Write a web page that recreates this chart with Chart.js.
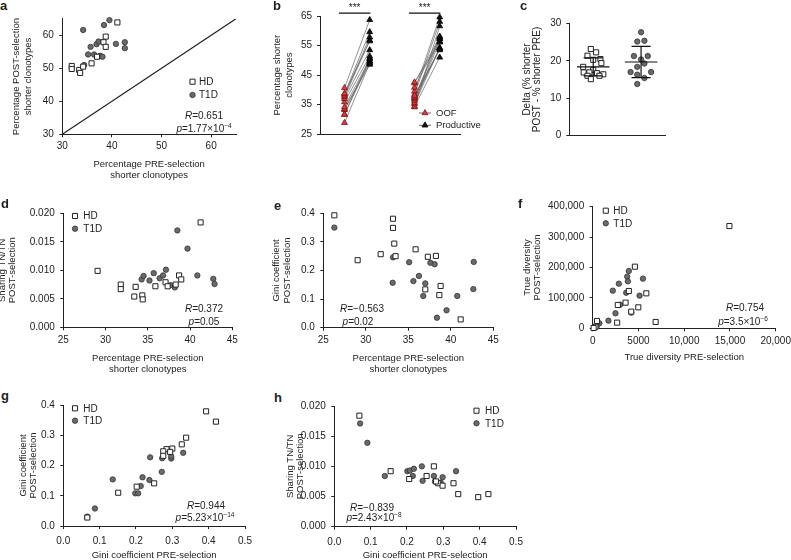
<!DOCTYPE html>
<html lang="en">
<head>
<meta charset="UTF-8">
<title>Shorter clonotypes, Gini coefficient, sharing and diversity</title>
<script src="https://cdn.jsdelivr.net/npm/chart.js@4"></script>
<style>
  body {
    margin: 0;
    width: 791px;
    height: 560px;
    overflow: hidden;
    position: relative;
    background: #fff;
    font-family: 'Liberation Sans', Arial, sans-serif;
    color: #222;
  }
  canvas { position: absolute; }
  /* lettres des panneaux */
  .lettre { position: absolute; font-weight: bold; font-size: 13px; line-height: 13px; }
  /* R et p dans les panneaux */
  .stat { position: absolute; font-size: 10px; line-height: 11px; white-space: nowrap; transform: translate(-50%, -50%); }
  .stat sup { font-size: 6.5px; vertical-align: 3.5px; line-height: 0; }
</style>
</head>
<body>

<canvas id="panneauA"></canvas>
<canvas id="panneauB"></canvas>
<canvas id="panneauC"></canvas>
<canvas id="panneauD"></canvas>
<canvas id="panneauE"></canvas>
<canvas id="panneauF"></canvas>
<canvas id="panneauG"></canvas>
<canvas id="panneauH"></canvas>

<div class="lettre" style="left:0px;top:-1px">a</div>
<div class="lettre" style="left:273px;top:-1px">b</div>
<div class="lettre" style="left:520px;top:-1px">c</div>
<div class="lettre" style="left:1px;top:197px">d</div>
<div class="lettre" style="left:274px;top:199px">e</div>
<div class="lettre" style="left:518px;top:197px">f</div>
<div class="lettre" style="left:1px;top:389px">g</div>
<div class="lettre" style="left:274px;top:391px">h</div>

<div class="stat" style="left:204px;top:115px"><i>R</i>=0.651</div>
<div class="stat" style="left:204px;top:128px"><i>p</i>=1.77×10<sup>−4</sup></div>
<div class="stat" style="left:204px;top:308px"><i>R</i>=0.372</div>
<div class="stat" style="left:204px;top:321px"><i>p</i>=0.05</div>
<div class="stat" style="left:362px;top:308px"><i>R</i>=−0.563</div>
<div class="stat" style="left:358px;top:321px"><i>p</i>=0.02</div>
<div class="stat" style="left:745px;top:307px"><i>R</i>=0.754</div>
<div class="stat" style="left:743px;top:321px"><i>p</i>=3.5×10<sup>−6</sup></div>
<div class="stat" style="left:206px;top:505px"><i>R</i>=0.944</div>
<div class="stat" style="left:205px;top:517px"><i>p</i>=5.23×10<sup>−14</sup></div>
<div class="stat" style="left:372px;top:507px"><i>R</i>=−0.839</div>
<div class="stat" style="left:374px;top:517px"><i>p</i>=2.43×10<sup>−8</sup></div>

<script>
// ---- valeurs ----
const groupes = ['HD', 'T1D'];

// a : % PRE vs % POST sélection
const aHdPre   = [31.9, 31.9, 33.4, 33.6, 34.2, 35.9, 37.0, 38.3, 38.75, 38.75, 41.1];
const aHdPost  = [50.7, 49.8, 49.5, 48.6, 50.5, 51.5, 53.5, 57.9, 59.6, 56.5, 63.9];
const aT1dPre  = [34.2, 38.4, 39.5, 34.4, 35.2, 35.7, 36.4, 36.9, 37.3, 37.6, 38.1, 40.8, 42.6, 42.6];
const aT1dPost = [61.6, 63.1, 64.6, 51.0, 54.2, 56.5, 54.2, 57.3, 58.1, 53.8, 53.5, 57.4, 57.9, 56.1];
const aDiagonale = [30, 65];

// b : OOF -> productif, par individu
const bHdOof   = [28.9, 31.7, 31.7, 33.3, 33.5, 34.2, 35.9, 37.0, 37.6, 38.1, 38.6, 38.8, 40.7];
const bHdProd  = [49.0, 50.8, 49.8, 49.5, 48.6, 50.4, 51.4, 53.5, 56.8, 57.8, 59.6, 56.5, 63.7];
const bT1dOof  = [34.2, 38.4, 39.5, 34.4, 35.2, 35.7, 36.4, 36.9, 37.3, 37.6, 38.1, 40.8, 42.3, 42.6];
const bT1dProd = [61.6, 63.1, 64.6, 51.0, 54.2, 56.5, 54.2, 57.3, 58.1, 53.8, 53.5, 57.4, 57.9, 56.1];
const bNiveauSignif = 66;

// c : delta (% POST - % PRE), dispersion horizontale
const cHdX  = [0.95, 1.06, 0.88, 1.15, 1.0, 1.17, 0.79, 1.0, 0.8, 0.92, 1.08, 1.21, 0.88, 1.13, 0.95];
const cHdY  = [23.2, 22.3, 21.4, 20.5, 20.3, 19.4, 18.4, 17.6, 16.9, 16.9, 16.7, 16.4, 16.0, 16.0, 15.1];
const cT1dX = [2.0, 1.92, 2.07, 1.85, 2.14, 2.0, 2.07, 1.92, 1.78, 2.21, 1.92, 2.07, 1.92];
const cT1dY = [27.7, 25.2, 25.4, 21.3, 21.3, 20.4, 19.3, 18.4, 17.0, 17.0, 16.3, 15.4, 13.8];
const cMoyenne = [18.4, 19.7];
const cEcart   = [2.4, 4.2];

// d : % PRE vs partage TN/TN POST
const dHdX  = [29.06, 31.8, 31.8, 33.56, 33.4, 34.35, 34.4, 35.9, 37.1, 37.35, 38.3, 38.7, 38.96, 41.25];
const dHdY  = [0.0099, 0.0075, 0.0067, 0.0071, 0.0054, 0.0056, 0.0049, 0.0072, 0.0079, 0.0072, 0.0075, 0.0091, 0.0084, 0.0184];
const dT1dX = [38.5, 39.7, 34.27, 34.5, 35.2, 35.7, 36.4, 36.8, 37.15, 37.7, 38.2, 40.86, 42.75, 42.9];
const dT1dY = [0.0170, 0.0138, 0.0084, 0.0090, 0.0082, 0.0095, 0.0086, 0.0091, 0.0101, 0.0074, 0.0070, 0.0091, 0.0085, 0.0076];

// e : % PRE vs Gini POST
const eHdX  = [26.3, 29.04, 31.75, 33.35, 33.5, 33.2, 33.2, 35.86, 37.3, 38.25, 37.0, 38.65, 38.8, 41.16];
const eHdY  = [0.393, 0.236, 0.257, 0.294, 0.250, 0.349, 0.381, 0.274, 0.248, 0.251, 0.134, 0.114, 0.146, 0.029];
const eT1dX = [26.3, 33.2, 35.1, 37.6, 38.1, 42.7, 33.16, 35.6, 36.25, 37.0, 36.76, 38.37, 39.5, 40.76, 42.65];
const eT1dY = [0.350, 0.246, 0.229, 0.227, 0.222, 0.230, 0.157, 0.163, 0.181, 0.155, 0.111, 0.035, 0.061, 0.111, 0.135];

// f : diversité vraie PRE vs POST
const fHdX  = [14940, 4610, 3950, 5860, 3590, 2745, 4980, 4210, 2670, 6880, 470, 300, 100];
const fHdY  = [336400, 202700, 122700, 115000, 84400, 76700, 69000, 54800, 18600, 20800, 24100, 5000, 1000];
const fT1dX = [3950, 3770, 3840, 5490, 2855, 2196, 3660, 3000, 5120, 4210, 2490, 1720, 730, 440, 220];
const fT1dY = [188500, 170000, 154500, 163300, 146800, 123800, 117000, 77800, 107400, 51500, 49300, 25200, 16400, 6600, 3300];
const fTicksX = ['0', '5000', '10,000', '15,000', '20,000'];
const fTicksY = ['0', '100,000', '200,000', '300,000', '400,000'];

// g : Gini PRE vs Gini POST
const gHdX  = [0.393, 0.42, 0.338, 0.326, 0.30, 0.284, 0.294, 0.275, 0.275, 0.250, 0.202, 0.151, 0.066];
const gHdY  = [0.379, 0.345, 0.292, 0.270, 0.256, 0.254, 0.245, 0.247, 0.232, 0.141, 0.130, 0.110, 0.028];
const gT1dX = [0.330, 0.297, 0.297, 0.272, 0.239, 0.271, 0.218, 0.237, 0.136, 0.213, 0.198, 0.206, 0.087, 0.066];
const gT1dY = [0.242, 0.223, 0.230, 0.224, 0.227, 0.179, 0.161, 0.152, 0.154, 0.132, 0.108, 0.108, 0.058, 0.031];

// h : Gini PRE vs partage TN/TN POST
const hHdX  = [0.069, 0.155, 0.206, 0.254, 0.274, 0.286, 0.298, 0.328, 0.341, 0.396, 0.424, 0.28];
const hHdY  = [0.0184, 0.0092, 0.0079, 0.0084, 0.0100, 0.0072, 0.0068, 0.0072, 0.0054, 0.0049, 0.0054, 0.0075];
const hT1dX = [0.071, 0.091, 0.139, 0.201, 0.208, 0.219, 0.216, 0.241, 0.243, 0.274, 0.277, 0.293, 0.298, 0.335];
const hT1dY = [0.0171, 0.0139, 0.0084, 0.0092, 0.0093, 0.0096, 0.0084, 0.0100, 0.0076, 0.0084, 0.0075, 0.0073, 0.0082, 0.0092];

// ---- réglages généraux ----
Chart.defaults.font.family = "'Liberation Sans', Arial, sans-serif";
Chart.defaults.color = '#222';
Chart.defaults.animation = false;
Chart.defaults.responsive = false;
Chart.defaults.plugins.legend.display = false;
Chart.defaults.plugins.tooltip.enabled = false;

const styleHD  = {pointStyle: 'rect', pointRadius: 3.6, pointBackgroundColor: '#fff', pointBorderColor: '#222', pointBorderWidth: 1};
const styleT1D = {pointStyle: 'circle', pointRadius: 2.7, pointBackgroundColor: '#6a6a6a', pointBorderColor: '#333', pointBorderWidth: 0.8};
const styleOof  = {pointStyle: 'triangle', pointRadius: 3.4, pointBackgroundColor: '#e23b3b', pointBorderColor: '#7a1010', pointBorderWidth: 0.8};
const styleProd = {pointStyle: 'triangle', pointRadius: 3.4, pointBackgroundColor: '#111', pointBorderColor: '#000', pointBorderWidth: 0.8};

const points = (xs, ys) => xs.map((x, i) => ({x: x, y: ys[i]}));

function nuage(label, xs, ys, style) {
  return Object.assign({label: label, data: points(xs, ys), showLine: false, clip: false}, style);
}

// légende dessinée dans la zone du graphique (coordonnées de la page)
const legendeInterne = {
  id: 'legendeInterne',
  afterDatasetsDraw(chart, args, opts) {
    if (!opts || !opts.x) return;
    const ctx = chart.ctx;
    const ox = opts.x - chart.canvas.offsetLeft, oy = opts.y - chart.canvas.offsetTop;
    const items = chart.data.datasets.filter(d => d.dansLegende);
    ctx.save();
    items.forEach((d, i) => {
      const y = oy + i * opts.pas;
      if (opts.trait) {
        ctx.strokeStyle = '#444';
        ctx.lineWidth = 0.8;
        ctx.beginPath(); ctx.moveTo(ox - 6, y); ctx.lineTo(ox + 6, y); ctx.stroke();
      }
      ctx.fillStyle = d.pointBackgroundColor;
      ctx.strokeStyle = d.pointBorderColor;
      ctx.lineWidth = d.pointBorderWidth;
      Chart.helpers.drawPoint(ctx, {pointStyle: d.pointStyle, radius: d.pointRadius, rotation: 0, borderWidth: d.pointBorderWidth}, ox, y);
      ctx.fillStyle = '#222';
      ctx.font = (opts.taille || 10) + "px 'Liberation Sans', Arial, sans-serif";
      ctx.textBaseline = 'middle';
      ctx.textAlign = 'left';
      ctx.fillText(d.label, ox + opts.dx, y + 0.5);
    });
    ctx.restore();
  }
};

// barres de significativité (panneau b)
const barresSignif = {
  id: 'barresSignif',
  afterDatasetsDraw(chart, args, opts) {
    if (!opts || !opts.texte) return;
    const {ctx, scales: {x, y}} = chart;
    const yb = y.getPixelForValue(opts.niveau);
    ctx.save();
    groupes.forEach((g, i) => {
      const x1 = x.getPixelForValue(i - 0.23), x2 = x.getPixelForValue(i + 0.22);
      ctx.strokeStyle = '#111';
      ctx.lineWidth = 1.3;
      ctx.beginPath(); ctx.moveTo(x1, yb); ctx.lineTo(x2, yb); ctx.stroke();
      ctx.fillStyle = '#222';
      ctx.font = "10px 'Liberation Sans', Arial, sans-serif";
      ctx.textAlign = 'center';
      ctx.textBaseline = 'alphabetic';
      ctx.fillText(opts.texte, (x1 + x2) / 2, yb - 2.3);
    });
    ctx.restore();
  }
};

Chart.register(legendeInterne, barresSignif);

function axe(o) {
  return {
    type: 'linear', min: o.min, max: o.max,
    border: {display: true, color: '#222', width: 1},
    grid: {drawOnChartArea: false, drawTicks: true, tickLength: 3, tickColor: '#222', tickWidth: 1},
    ticks: {
      stepSize: o.pas, includeBounds: false, autoSkip: false, maxRotation: 0, minRotation: 0,
      padding: o.remb, font: {size: o.taille || 10}, color: '#222',
      callback: o.format || (v => v.toFixed(o.dec || 0))
    },
    title: o.titre
      ? {display: true, text: o.titre, color: '#222', padding: 0, font: {size: o.tailleTitre || 9.5, lineHeight: o.interligne + 'px'}}
      : {display: false}
  };
}

// boite = canvas dans la page (g, h, d, b), zone = zone de tracé voulue
function panneau(id, boite, zone, datasets, echelles, plugins) {
  const cv = document.getElementById(id);
  cv.width = boite.d - boite.g;
  cv.height = boite.b - boite.h;
  cv.style.left = boite.g + 'px';
  cv.style.top = boite.h + 'px';
  echelles.x.afterFit = s => { s.height = boite.b - zone.y1; s.paddingLeft = s.paddingRight = s.paddingTop = s.paddingBottom = 0; };
  echelles.y.afterFit = s => { s.width = zone.x0 - boite.g; s.paddingLeft = s.paddingRight = s.paddingTop = s.paddingBottom = 0; };
  return new Chart(cv, {
    type: 'scatter',
    data: {datasets: datasets},
    options: {
      layout: {autoPadding: false, padding: {left: 0, top: zone.y0 - boite.h, right: boite.d - zone.x1, bottom: 0}},
      scales: echelles,
      plugins: Object.assign({legendeInterne: {}, barresSignif: {}}, plugins || {})
    }
  });
}

// ---- a ----
panneau('panneauA', {g: 11, h: 0, d: 260, b: 181}, {x0: 62.3, x1: 236, y0: 18.8, y1: 134.3}, [
  Object.assign(nuage('HD', aHdPre, aHdPost, styleHD), {dansLegende: true}),
  Object.assign(nuage('T1D', aT1dPre, aT1dPost, styleT1D), {dansLegende: true}),
  {data: points(aDiagonale, aDiagonale), showLine: true, borderColor: '#222', borderWidth: 1.2, pointRadius: 0}
], {
  x: axe({min: 30, max: 65, pas: 10, remb: 3.4, titre: ['Percentage PRE-selection', 'shorter clonotypes'], interligne: 11.4}),
  y: axe({min: 30, max: 65, pas: 10, remb: 5.5, titre: ['Percentage POST-selection', 'shorter clonotypes'], interligne: 11.6})
}, {legendeInterne: {x: 192.5, y: 81.7, pas: 13.3, dx: 6.5}});

// ---- b ----
function paires(pos, avant, apres) {
  const pts = [];
  avant.forEach((v, i) => {
    pts.push({x: pos - 0.15, y: v}, {x: pos + 0.21, y: apres[i]}, {x: pos, y: null});
  });
  return pts;
}
panneau('panneauB', {g: 272, h: 0, d: 518, b: 160}, {x0: 320, x1: 460, y0: 16, y1: 134.3}, [
  Object.assign({label: 'OOF', data: points(bHdOof.map(() => -0.15), bHdOof).concat(points(bT1dOof.map(() => 0.85), bT1dOof)), showLine: false, clip: false, dansLegende: true}, styleOof),
  Object.assign({label: 'Productive', data: points(bHdProd.map(() => 0.21), bHdProd).concat(points(bT1dProd.map(() => 1.21), bT1dProd)), showLine: false, clip: false, dansLegende: true}, styleProd),
  {data: paires(0, bHdOof, bHdProd).concat(paires(1, bT1dOof, bT1dProd)), showLine: true, spanGaps: false, borderColor: '#666', borderWidth: 0.7, pointRadius: 0}
], {
  x: axe({min: -0.5, max: 1.5, pas: 1, remb: 4.4, format: v => groupes[v]}),
  y: axe({min: 25, max: 65, pas: 10, remb: 5, titre: ['Percentage shorter', 'clonotypes'], interligne: 11.5})
}, {
  legendeInterne: {x: 425, y: 113, pas: 12.3, dx: 11, trait: true, taille: 9.5},
  barresSignif: {texte: '***', niveau: bNiveauSignif}
});

// ---- c ----
function barresErreur(moy, sd) {
  const pts = [];
  moy.forEach((m, i) => {
    const g = i + 1, haut = m + sd[i], bas = m - sd[i];
    pts.push({x: g - 0.34, y: m}, {x: g + 0.34, y: m}, {x: g, y: null},
             {x: g, y: bas}, {x: g, y: haut}, {x: g, y: null},
             {x: g - 0.2, y: haut}, {x: g + 0.2, y: haut}, {x: g, y: null},
             {x: g - 0.2, y: bas}, {x: g + 0.2, y: bas}, {x: g, y: null});
  });
  return pts;
}
panneau('panneauC', {g: 522, h: 0, d: 680, b: 165}, {x0: 569.3, x1: 665, y0: 23.7, y1: 135.3}, [
  {data: barresErreur(cMoyenne, cEcart), showLine: true, spanGaps: false, borderColor: '#111', borderWidth: 1.2, pointRadius: 0},
  nuage('HD', cHdX, cHdY, styleHD),
  nuage('T1D', cT1dX, cT1dY, styleT1D)
], {
  x: axe({min: 0.5, max: 2.5, pas: 1, remb: 4, taille: 11.5, format: v => groupes[v - 1]}),
  y: axe({min: 0, max: 30, pas: 10, remb: 5, titre: ['Delta (% shorter', 'POST - % shorter PRE)'], interligne: 10, tailleTitre: 10})
});

// ---- d ----
panneau('panneauD', {g: -3, h: 195, d: 255, b: 375}, {x0: 63.3, x1: 232.3, y0: 213.3, y1: 327.3}, [
  Object.assign(nuage('HD', dHdX, dHdY, styleHD), {dansLegende: true}),
  Object.assign(nuage('T1D', dT1dX, dT1dY, styleT1D), {dansLegende: true})
], {
  x: axe({min: 25, max: 45, pas: 5, remb: 4.4, titre: ['Percentage PRE-selection', 'shorter clonotypes'], interligne: 11.3}),
  y: axe({min: 0, max: 0.02, pas: 0.005, dec: 3, remb: 5.5, titre: ['Sharing TN/TN', 'POST-selection'], interligne: 10})
}, {legendeInterne: {x: 75, y: 216, pas: 12.7, dx: 8.3}});

// ---- e ----
panneau('panneauE', {g: 270, h: 195, d: 515, b: 375}, {x0: 323.3, x1: 493.3, y0: 213.3, y1: 327.7}, [
  nuage('HD', eHdX, eHdY, styleHD),
  nuage('T1D', eT1dX, eT1dY, styleT1D)
], {
  x: axe({min: 25, max: 45, pas: 5, remb: 4, titre: ['Percentage PRE-selection', 'shorter clonotypes'], interligne: 11.3}),
  y: axe({min: 0, max: 0.4, pas: 0.1, dec: 1, remb: 5.5, titre: ['Gini coefficient', 'POST-selection'], interligne: 11.8})
});

// ---- f ----
panneau('panneauF', {g: 522, h: 190, d: 791, b: 363}, {x0: 592.7, x1: 775.7, y0: 206.7, y1: 328.3}, [
  Object.assign(nuage('HD', fHdX, fHdY, styleHD), {dansLegende: true}),
  Object.assign(nuage('T1D', fT1dX, fT1dY, styleT1D), {dansLegende: true})
], {
  x: axe({min: 0, max: 20000, pas: 5000, remb: 4.4, format: (v, i) => fTicksX[i], titre: 'True diversity PRE-selection', interligne: 11.3}),
  y: axe({min: 0, max: 400000, pas: 100000, remb: 5.5, format: (v, i) => fTicksY[i], titre: ['True diversity', 'POST-selection'], interligne: 10})
}, {legendeInterne: {x: 605.8, y: 210.7, pas: 12.6, dx: 7.5}});

// ---- g ----
panneau('panneauG', {g: 18, h: 385, d: 262, b: 561}, {x0: 63.3, x1: 245, y0: 405, y1: 526}, [
  Object.assign(nuage('HD', gHdX, gHdY, styleHD), {dansLegende: true}),
  Object.assign(nuage('T1D', gT1dX, gT1dY, styleT1D), {dansLegende: true})
], {
  x: axe({min: 0, max: 0.5, pas: 0.1, dec: 1, remb: 6.7, titre: 'Gini coefficient PRE-selection', interligne: 11.3}),
  y: axe({min: 0, max: 0.4, pas: 0.1, dec: 1, remb: 5.5, titre: ['Gini coefficient', 'POST-selection'], interligne: 10})
}, {legendeInterne: {x: 75, y: 408.3, pas: 12.4, dx: 8.3}});

// ---- h ----
panneau('panneauH', {g: 285, h: 385, d: 530, b: 561}, {x0: 334.3, x1: 516, y0: 406, y1: 526.7}, [
  Object.assign(nuage('HD', hHdX, hHdY, styleHD), {dansLegende: true}),
  Object.assign(nuage('T1D', hT1dX, hT1dY, styleT1D), {dansLegende: true})
], {
  x: axe({min: 0, max: 0.5, pas: 0.1, dec: 1, remb: 7, titre: 'Gini coefficient PRE-selection', interligne: 11.3}),
  y: axe({min: 0, max: 0.02, pas: 0.005, dec: 3, remb: 5.5, titre: ['Sharing TN/TN', 'POST-selection'], interligne: 10})
}, {legendeInterne: {x: 476.5, y: 410.7, pas: 12.6, dx: 8.5}});
</script>

</body>
</html>
